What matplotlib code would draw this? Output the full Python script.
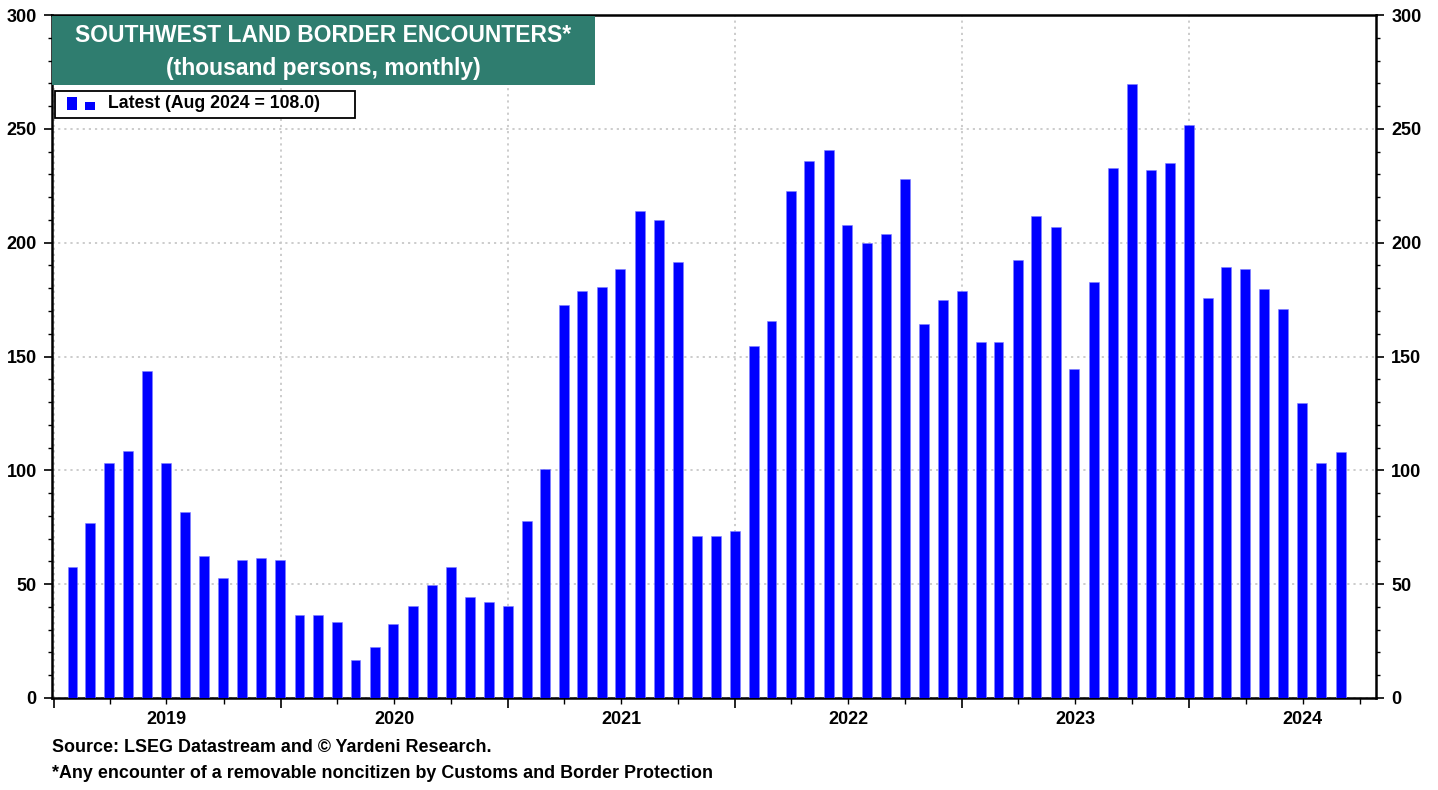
import numpy as np
import pandas as pd
import matplotlib
matplotlib.use("Agg")
import matplotlib.pyplot as plt
import matplotlib.dates as mdates
from matplotlib.patches import Rectangle
from matplotlib.ticker import MultipleLocator
from matplotlib.transforms import blended_transform_factory

plt.rcParams["font.family"] = ["Liberation Sans", "DejaVu Sans"]
plt.rcParams["font.weight"] = "bold"

# monthly encounters, thousand persons (Jan 2019 .. Aug 2024)
encounters = [
    57.5, 76.7, 103.2, 108.6, 143.8, 103.2, 81.5, 62.4, 52.6, 60.5, 61.4, 60.5,
    36.3, 36.3, 33.2, 16.6, 22.5, 32.4, 40.3, 49.6, 57.4, 44.2, 42.2, 40.3,
    77.6, 100.4, 172.7, 178.6, 180.6, 188.6, 213.7, 209.8, 191.5, 71.1, 71.1, 73.2,
    154.5, 165.8, 222.6, 235.8, 240.7, 207.7, 199.8, 203.8, 227.9, 164.4, 174.7, 178.6,
    156.5, 156.5, 192.5, 211.7, 206.7, 144.6, 182.7, 232.9, 269.8, 231.9, 234.8, 251.5,
    175.7, 189.4, 188.6, 179.6, 170.8, 129.4, 103.2, 108.0,
]
dates = pd.date_range("2019-01-31", periods=len(encounters), freq="ME")
years = [2019, 2020, 2021, 2022, 2023, 2024]

W, H = 1438, 790
fig = plt.figure(figsize=(W / 100, H / 100), dpi=100)
ax = fig.add_axes([52 / W, 1 - 698 / H, (1376 - 52) / W, (698 - 15) / H])

ax.bar(dates, encounters, width=16, color="#0000ff", edgecolor="#8080ff", linewidth=0.4, zorder=3)

ax.set_xlim(pd.Timestamp("2018-12-29"), pd.Timestamp("2024-10-27"))
ax.set_ylim(0, 300)

# x axis: long ticks at year boundaries, short at quarters, year labels mid-year
ax.xaxis.set_major_locator(mdates.YearLocator())
ax.xaxis.set_minor_locator(mdates.MonthLocator(bymonth=[4, 7, 10]))
ax.xaxis.set_major_formatter(plt.NullFormatter())
ax.tick_params(axis="x", which="major", length=7, width=1.2, direction="out")
ax.tick_params(axis="x", which="minor", length=4, width=1.0, direction="out")
tr = blended_transform_factory(ax.transData, ax.transAxes)
for y in years:
    ax.text(mdates.date2num(pd.Timestamp(f"{y}-07-01")), -0.032, str(y), transform=tr,
            ha="center", va="center", fontsize=13, fontweight="bold")

# y axis on both sides
ax.yaxis.set_major_locator(MultipleLocator(50))
ax.yaxis.set_minor_locator(MultipleLocator(10))
ax.tick_params(axis="y", which="major", length=6, width=1.2, labelsize=13,
               left=True, right=True, labelleft=True, labelright=True, pad=5)
ax.tick_params(axis="y", which="minor", length=3, width=1.0, left=True, right=True)
for lab in ax.get_yticklabels():
    lab.set_fontweight("bold")

for s in ax.spines.values():
    s.set_linewidth(1.8)

ax.grid(True, which="major", axis="both", color="#c8c8c8", linestyle=(0, (1.2, 2.2)), linewidth=1.3, zorder=0)

# title box
fig.patches.append(Rectangle((52 / W, 1 - 85 / H), (595 - 52) / W, (85 - 16) / H,
                             transform=fig.transFigure, facecolor="#2f7d6f", edgecolor="none", zorder=5))
fig.text(323 / W, 1 - 36 / H, "SOUTHWEST LAND BORDER ENCOUNTERS*", ha="center", va="center",
         color="white", fontsize=16.5, fontweight="bold", zorder=6)
fig.text(323 / W, 1 - 68 / H, "(thousand persons, monthly)", ha="center", va="center",
         color="white", fontsize=16.5, fontweight="bold", zorder=6)

# legend box
fig.patches.append(Rectangle((55 / W, 1 - 118 / H), (355 - 55) / W, (118 - 91) / H,
                             transform=fig.transFigure, facecolor="white", edgecolor="black",
                             linewidth=1.3, zorder=5))
fig.patches.append(Rectangle((67 / W, 1 - 110 / H), 10 / W, 13 / H, transform=fig.transFigure,
                             facecolor="#0000ff", edgecolor="none", zorder=6))
fig.patches.append(Rectangle((85 / W, 1 - 110 / H), 10 / W, 8 / H, transform=fig.transFigure,
                             facecolor="#0000ff", edgecolor="none", zorder=6))
fig.text(108 / W, 1 - 104 / H, "Latest (Aug 2024 = 108.0)", ha="left", va="center",
         fontsize=12.7, fontweight="bold", zorder=6)

# footnotes
fig.text(52 / W, 1 - 748 / H, "Source: LSEG Datastream and \u00a9 Yardeni Research.",
         ha="left", va="center", fontsize=12.9, fontweight="bold")
fig.text(52 / W, 1 - 773 / H, "*Any encounter of a removable noncitizen by Customs and Border Protection",
         ha="left", va="center", fontsize=12.9, fontweight="bold")

fig.savefig("out.png", dpi=100)
